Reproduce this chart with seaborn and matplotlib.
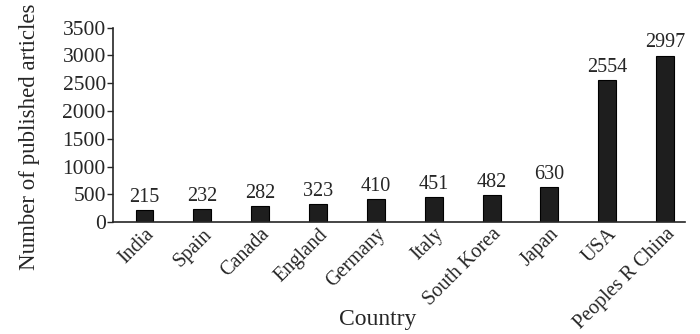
import matplotlib
matplotlib.use("Agg")
import matplotlib.pyplot as plt
import seaborn as sns
import pandas as pd

countries = ["India", "Spain", "Canada", "England", "Germany", "Italy",
             "South Korea", "Japan", "USA", "Peoples R China"]
articles = [215, 232, 282, 323, 410, 451, 482, 630, 2554, 2997]

sns.set_style("ticks")
plt.rcParams['font.family'] = ['Liberation Serif', 'DejaVu Serif']

df = pd.DataFrame({"Country": countries, "Articles": articles})

fig = plt.figure(figsize=(7, 3.34), dpi=100)
ax = fig.add_axes([0.161, 0.335, 0.818, 0.582])
sns.barplot(data=df, x="Country", y="Articles", color="#1e1e1e",
            edgecolor="black", linewidth=0.8, width=0.31, ax=ax, saturation=1)

# value labels above bars
for i, v in enumerate(articles):
    ax.text(i, v + 60, str(v), ha="center", va="bottom", fontsize=14.5)

ax.set_ylim(0, 3500)
ax.set_xlim(-0.55, 9.35)
ax.set_yticks(range(0, 3501, 500))
ax.tick_params(axis="y", labelsize=15.5, length=4, width=1, pad=1)
ax.tick_params(axis="x", length=0, labelsize=14.5, pad=2)
plt.setp(ax.get_xticklabels(), rotation=45, ha="right", rotation_mode="anchor")
ax.set_xlabel("Country", fontsize=17)
ax.xaxis.set_label_coords(0.463, -0.5)
ax.xaxis.label.set_va("center")
ax.set_ylabel("Number of published articles", fontsize=16.5)
ax.yaxis.set_label_coords(-0.145, 0.44)
ax.yaxis.label.set_va("center")
sns.despine(ax=ax)
for s in ax.spines.values():
    s.set_linewidth(1.2)

fig.savefig("out.png", dpi=100)
